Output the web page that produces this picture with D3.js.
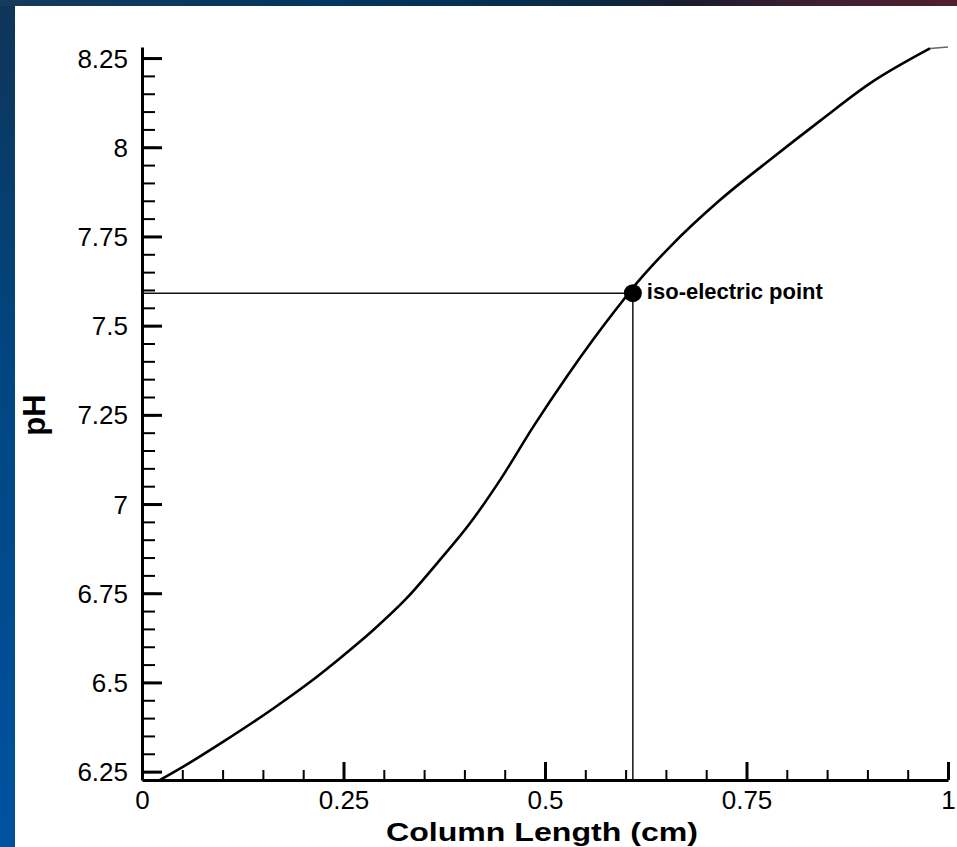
<!DOCTYPE html>
<html>
<head>
<meta charset="utf-8">
<script src="https://cdn.jsdelivr.net/npm/d3@7"></script>
<style>
  html, body { margin: 0; padding: 0; }
  body { width: 957px; height: 847px; overflow: hidden; }
  svg { display: block; }
</style>
</head>
<body>
<script>
// ---- data ----
const columnLength = [0.0223, 0.0512, 0.1009, 0.1629, 0.2043, 0.2457, 0.2870, 0.3284, 0.3676, 0.4069, 0.4442, 0.4855, 0.5269, 0.5600, 0.5972, 0.6138, 0.6551, 0.7171, 0.7792, 0.8412, 0.9032, 0.9777, 1.0];
const pHValues     = [6.2265, 6.264, 6.334, 6.427, 6.494, 6.568, 6.647, 6.736, 6.838, 6.946, 7.067, 7.217, 7.357, 7.462, 7.572, 7.619, 7.721, 7.852, 7.965, 8.074, 8.179, 8.277, 8.281];
const isoPoint = { x: 0.609, y: 7.591, label: "iso-electric point" };
const xTickValues = [0, 0.25, 0.5, 0.75, 1];
const xTickLabels = ["0", "0.25", "0.5", "0.75", "1"];
const yTickValues = [6.25, 6.5, 6.75, 7, 7.25, 7.5, 7.75, 8, 8.25];
const yTickLabels = ["6.25", "6.5", "6.75", "7", "7.25", "7.5", "7.75", "8", "8.25"];
const xMinorTicks = d3.range(0, 21).map(i => +(i * 0.05).toFixed(2));
const yMinorTicks = d3.range(0, 41).map(i => +(6.25 + i * 0.05).toFixed(2));
const xTitle = "Column Length (cm)";
const yTitle = "pH";
const xDomain = [0, 1];
const yDomain = [6.2265, 8.281];

const W = 957, H = 847;
const svg = d3.select("body").append("svg").attr("width", W).attr("height", H);

// background gradients
const defs = svg.append("defs");
const gLeft = defs.append("linearGradient").attr("id", "gl").attr("x1", 0).attr("y1", 0).attr("x2", 0).attr("y2", 1);
gLeft.append("stop").attr("offset", "0%").attr("stop-color", "#0f3458");
gLeft.append("stop").attr("offset", "40%").attr("stop-color", "#00457f");
gLeft.append("stop").attr("offset", "100%").attr("stop-color", "#0052a0");
const gTop = defs.append("linearGradient").attr("id", "gt").attr("x1", 0).attr("y1", 0).attr("x2", 1).attr("y2", 0);
gTop.append("stop").attr("offset", "0%").attr("stop-color", "#163a5c");
gTop.append("stop").attr("offset", "35%").attr("stop-color", "#003660");
gTop.append("stop").attr("offset", "62%").attr("stop-color", "#0a2a44");
gTop.append("stop").attr("offset", "72%").attr("stop-color", "#1a1c2c");
gTop.append("stop").attr("offset", "85%").attr("stop-color", "#3e1f33");
gTop.append("stop").attr("offset", "100%").attr("stop-color", "#4f1f2f");

svg.append("rect").attr("x", 0).attr("y", 0).attr("width", W).attr("height", H).attr("fill", "url(#gl)");
svg.append("rect").attr("x", 0).attr("y", 0).attr("width", W).attr("height", 6).attr("fill", "url(#gt)");
svg.append("rect").attr("x", 15).attr("y", 6).attr("width", W - 15).attr("height", H - 6).attr("fill", "#ffffff");

// scales
const x = d3.scaleLinear().domain(xDomain).range([142, 948]);
const y = d3.scaleLinear().domain(yDomain).range([780, 47]);

const font = "'Liberation Sans', Arial, Helvetica, sans-serif";

// minor ticks
const xMinorAxis = d3.axisBottom(x).tickValues(xMinorTicks).tickSize(-10).tickSizeOuter(0).tickFormat("");
const yMinorAxis = d3.axisLeft(y).tickValues(yMinorTicks).tickSize(-13).tickSizeOuter(0).tickFormat("");
svg.append("g").attr("transform", `translate(0,${y.range()[0]})`).call(xMinorAxis)
  .call(g => g.select(".domain").remove())
  .call(g => g.selectAll("line").attr("stroke", "#000").attr("stroke-width", 2));
svg.append("g").attr("transform", `translate(${x.range()[0]},0)`).call(yMinorAxis)
  .call(g => g.select(".domain").remove())
  .call(g => g.selectAll("line").attr("stroke", "#000").attr("stroke-width", 2));

// major axes
const xAxis = d3.axisBottom(x).tickValues(xTickValues).tickSize(-18).tickSizeOuter(0)
  .tickFormat((d, i) => xTickLabels[i]);
const yAxis = d3.axisLeft(y).tickValues(yTickValues).tickSize(-20).tickSizeOuter(0)
  .tickFormat((d, i) => yTickLabels[i]);
svg.append("g").attr("transform", `translate(0,${y.range()[0]})`).call(xAxis)
  .call(g => g.select(".domain").attr("stroke", "#000").attr("stroke-width", 3))
  .call(g => g.selectAll(".tick line").attr("stroke", "#000").attr("stroke-width", 3))
  .call(g => g.selectAll(".tick text").attr("fill", "#000").attr("font-family", font).attr("font-size", 26).attr("dy", "0.72em").attr("y", 10));
svg.append("g").attr("transform", `translate(${x.range()[0]},0)`).call(yAxis)
  .call(g => g.select(".domain").attr("stroke", "#000").attr("stroke-width", 3))
  .call(g => g.selectAll(".tick line").attr("stroke", "#000").attr("stroke-width", 3))
  .call(g => g.selectAll(".tick text").attr("fill", "#000").attr("font-family", font).attr("font-size", 26).attr("dy", "0.35em").attr("x", -14));

// reference lines to iso-electric point
svg.append("line")
  .attr("x1", x(0)).attr("x2", x(isoPoint.x)).attr("y1", y(isoPoint.y)).attr("y2", y(isoPoint.y))
  .attr("stroke", "#111").attr("stroke-width", 1.5);
svg.append("line")
  .attr("x1", x(isoPoint.x)).attr("x2", x(isoPoint.x)).attr("y1", y(isoPoint.y)).attr("y2", y(yDomain[0]))
  .attr("stroke", "#111").attr("stroke-width", 1.5);

// curve (last segment runs along the top frame edge, drawn lighter)
const data = columnLength.map((c, i) => ({ x: c, y: pHValues[i] }));
const mainPart = data.slice(0, data.length - 1);
const edgePart = data.slice(data.length - 2);
const line = d3.line().x(d => x(d.x)).y(d => y(d.y)).curve(d3.curveMonotoneX);
svg.append("path").datum(mainPart).attr("d", line)
  .attr("fill", "none").attr("stroke", "#000").attr("stroke-width", 2.6).attr("stroke-linejoin", "round");
svg.append("path").datum(edgePart).attr("d", d3.line().x(d => x(d.x)).y(d => y(d.y)))
  .attr("fill", "none").attr("stroke", "#666").attr("stroke-width", 1.5);

// iso point
svg.append("circle").attr("cx", x(isoPoint.x)).attr("cy", y(isoPoint.y)).attr("r", 9).attr("fill", "#000");
svg.append("text").attr("x", x(isoPoint.x) + 14).attr("y", y(isoPoint.y) + 6)
  .attr("font-family", font).attr("font-weight", "bold").attr("font-size", 22).attr("fill", "#000")
  .text(isoPoint.label);

// titles
svg.append("text").attr("x", (x(0) + x(1)) / 2 - 3).attr("y", 841).attr("text-anchor", "middle")
  .attr("font-family", font).attr("font-weight", "bold").attr("font-size", 26).attr("fill", "#000")
  .attr("textLength", 312).attr("lengthAdjust", "spacingAndGlyphs")
  .text(xTitle);
svg.append("text").attr("transform", `translate(45,415) rotate(-90)`).attr("text-anchor", "middle")
  .attr("font-family", font).attr("font-weight", "bold").attr("font-size", 31).attr("fill", "#000")
  .text(yTitle);
</script>
</body>
</html>
